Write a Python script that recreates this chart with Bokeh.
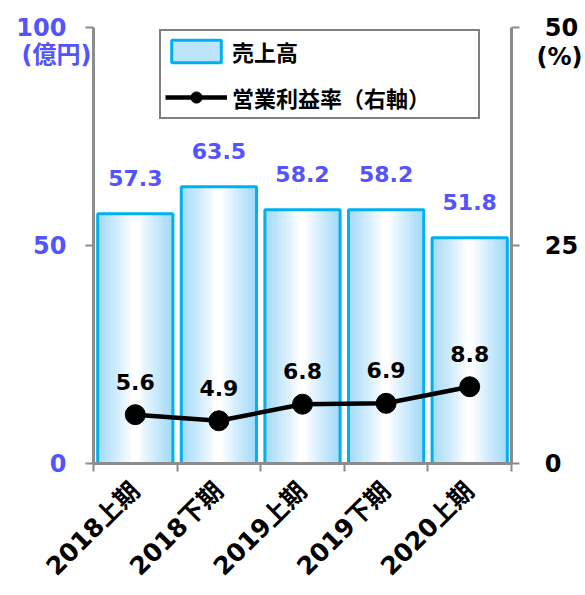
import math
from bokeh.plotting import figure
from bokeh.models import (Range1d, LinearAxis, FixedTicker, Legend, LegendItem,
                          ColumnDataSource, CustomJSTickFormatter)
from bokeh.embed import file_html
from bokeh.resources import INLINE
from bokeh.core.properties import value

# ---------------- data ----------------
categories = ["2018上期", "2018下期", "2019上期", "2019下期", "2020上期"]
sales = [57.3, 63.5, 58.2, 58.2, 51.8]          # 売上高 (億円)
margin_pct = [5.6, 4.9, 6.8, 6.9, 8.8]          # 営業利益率 (%)
left_ticks = [0, 50, 100]
right_ticks = [0, 25, 50]
left_unit = "(億円)"
right_unit = "(%)"
sales_name = "売上高"
margin_name = "営業利益率（右軸）"

# ---------------- style / layout ----------------
BLUE_TXT = "#5454FF"
BAR_LINE = "#00B0F0"
AXIS = "#8C8C8C"
NUM_FONT = "DejaVu Sans"
MIX_FONT = "DejaVu Sans, Noto Sans CJK JP"
CJK_FONT = "Noto Sans CJK JP"
EDGE_RGB = (160, 217, 248)
LEFT_UNIT_AT = 93.6     # where the unit caption sits on the left scale
RIGHT_UNIT_AT = 46.6    # where the unit caption sits on the right scale

n = len(categories)
centers = [i + 0.5 for i in range(n)]
BAR_W = 0.9
N_STRIP = 30

p = figure(width=585, height=595, x_range=Range1d(0, n), y_range=Range1d(0, 100),
           output_backend="svg", toolbar_location=None,
           min_border_left=93, min_border_right=73, min_border_top=27,
           min_border_bottom=132)
p.outline_line_color = None
p.xgrid.visible = False
p.ygrid.visible = False
p.background_fill_color = "white"
p.border_fill_color = "white"
p.extra_y_ranges = {"pct": Range1d(0, 50)}

# ---------------- gradient bars ----------------
sl, sr, st, sc = [], [], [], []
for c, v in zip(centers, sales):
    for k in range(N_STRIP):
        t = (k + 0.5) / N_STRIP
        f = max(0.0, (abs(t - 0.5) - 0.04) / 0.46) ** 0.9
        rgb = tuple(int(round(255 * (1 - f) + e * f)) for e in EDGE_RGB)
        sl.append(c - BAR_W / 2 + BAR_W * k / N_STRIP)
        sr.append(c - BAR_W / 2 + BAR_W * (k + 1) / N_STRIP)
        st.append(v)
        sc.append("#%02x%02x%02x" % rgb)
strip_src = ColumnDataSource(dict(left=sl, right=sr, top=st, bottom=[0] * len(st), color=sc))
strips = p.quad(left="left", right="right", top="top", bottom="bottom", source=strip_src,
                fill_color="color", line_color="color", line_width=0.6)

bar_src = ColumnDataSource(dict(x=centers, top=sales))
outline = p.vbar(x="x", top="top", width=BAR_W, source=bar_src, fill_color=None,
                 line_color=BAR_LINE, line_width=3)

p.text(x=centers, y=sales, text=[f"{v:.1f}" for v in sales],
       text_font=value(NUM_FONT), text_font_style="bold", text_font_size="22px",
       text_color=BLUE_TXT, text_align="center", text_baseline="alphabetic", y_offset=-36)

# ---------------- line ----------------
line_r = p.line(x=centers, y=margin_pct, y_range_name="pct", line_color="black", line_width=4.5)
dot_r = p.scatter(x=centers, y=margin_pct, y_range_name="pct", size=20,
                  fill_color="black", line_color="black")
p.text(x=centers, y=margin_pct, y_range_name="pct", text=[f"{v:.1f}" for v in margin_pct],
       text_font=value(NUM_FONT), text_font_style="bold", text_font_size="22px",
       text_color="black", text_align="center", text_baseline="alphabetic", y_offset=-33)

# ---------------- axes ----------------
xa = p.xaxis[0]
xa.ticker = FixedTicker(ticks=centers, minor_ticks=list(range(n + 1)))
xa.formatter = CustomJSTickFormatter(args=dict(labels=categories), code="""
    const i = Math.round(tick - 0.5);
    return (i >= 0 && i < labels.length) ? labels[i] : '';
""")
xa.major_label_orientation = math.pi / 4
xa.major_tick_line_color = None
xa.major_tick_out = 0
xa.major_tick_in = 0
xa.minor_tick_in = 0
xa.minor_tick_out = 8
xa.minor_tick_line_color = AXIS
xa.minor_tick_line_width = 2
xa.axis_line_color = AXIS
xa.axis_line_width = 3
xa.major_label_text_font = MIX_FONT
xa.major_label_text_font_style = "bold"
xa.major_label_text_font_size = "25px"
xa.major_label_text_color = "black"
xa.major_label_standoff = 15


def style_y(ax, ticks, unit_at, unit, color, standoff, pad):
    ax.ticker = FixedTicker(ticks=ticks + [unit_at], minor_ticks=ticks)
    ax.formatter = CustomJSTickFormatter(args=dict(unit_at=unit_at, unit=unit, pad=pad), code="""
        if (Math.abs(tick - unit_at) < 1e-6) return unit;
        return pad[0] + String(tick) + pad[1];
    """)
    ax.major_tick_line_color = None
    ax.major_tick_in = 0
    ax.major_tick_out = 0
    ax.minor_tick_in = 0
    ax.minor_tick_out = 8
    ax.minor_tick_line_color = AXIS
    ax.minor_tick_line_width = 2
    ax.axis_line_color = AXIS
    ax.axis_line_width = 3
    ax.major_label_text_font = MIX_FONT
    ax.major_label_text_font_style = "bold"
    ax.major_label_text_font_size = "24px"
    ax.major_label_text_color = color
    ax.major_label_standoff = standoff


NB = "\u00a0"
style_y(p.yaxis[0], left_ticks, LEFT_UNIT_AT, left_unit, BLUE_TXT, -6, ["", NB * 3])

ra = LinearAxis(y_range_name="pct")
style_y(ra, right_ticks, RIGHT_UNIT_AT, right_unit, "black", 17, [NB, ""])
p.add_layout(ra, "right")

# ---------------- legend ----------------
legend = Legend(items=[
    LegendItem(label=sales_name, renderers=[strips, outline], index=4),
    LegendItem(label=margin_name, renderers=[line_r, dot_r]),
], location=(66, 344), orientation="vertical")
legend.border_line_color = "black"
legend.border_line_width = 2
legend.background_fill_color = "white"
legend.background_fill_alpha = 1
legend.padding = 4
legend.margin = 0
legend.spacing = 14
legend.glyph_width = 62
legend.glyph_height = 28
legend.label_height = 26
legend.label_standoff = 5
legend.label_width = 242
legend.label_text_font = CJK_FONT
legend.label_text_font_style = "bold"
legend.label_text_font_size = "22px"
legend.label_text_color = "black"
legend.label_text_baseline = "middle"
p.add_layout(legend, "center")

open("out.html", "w").write(file_html(p, INLINE))
